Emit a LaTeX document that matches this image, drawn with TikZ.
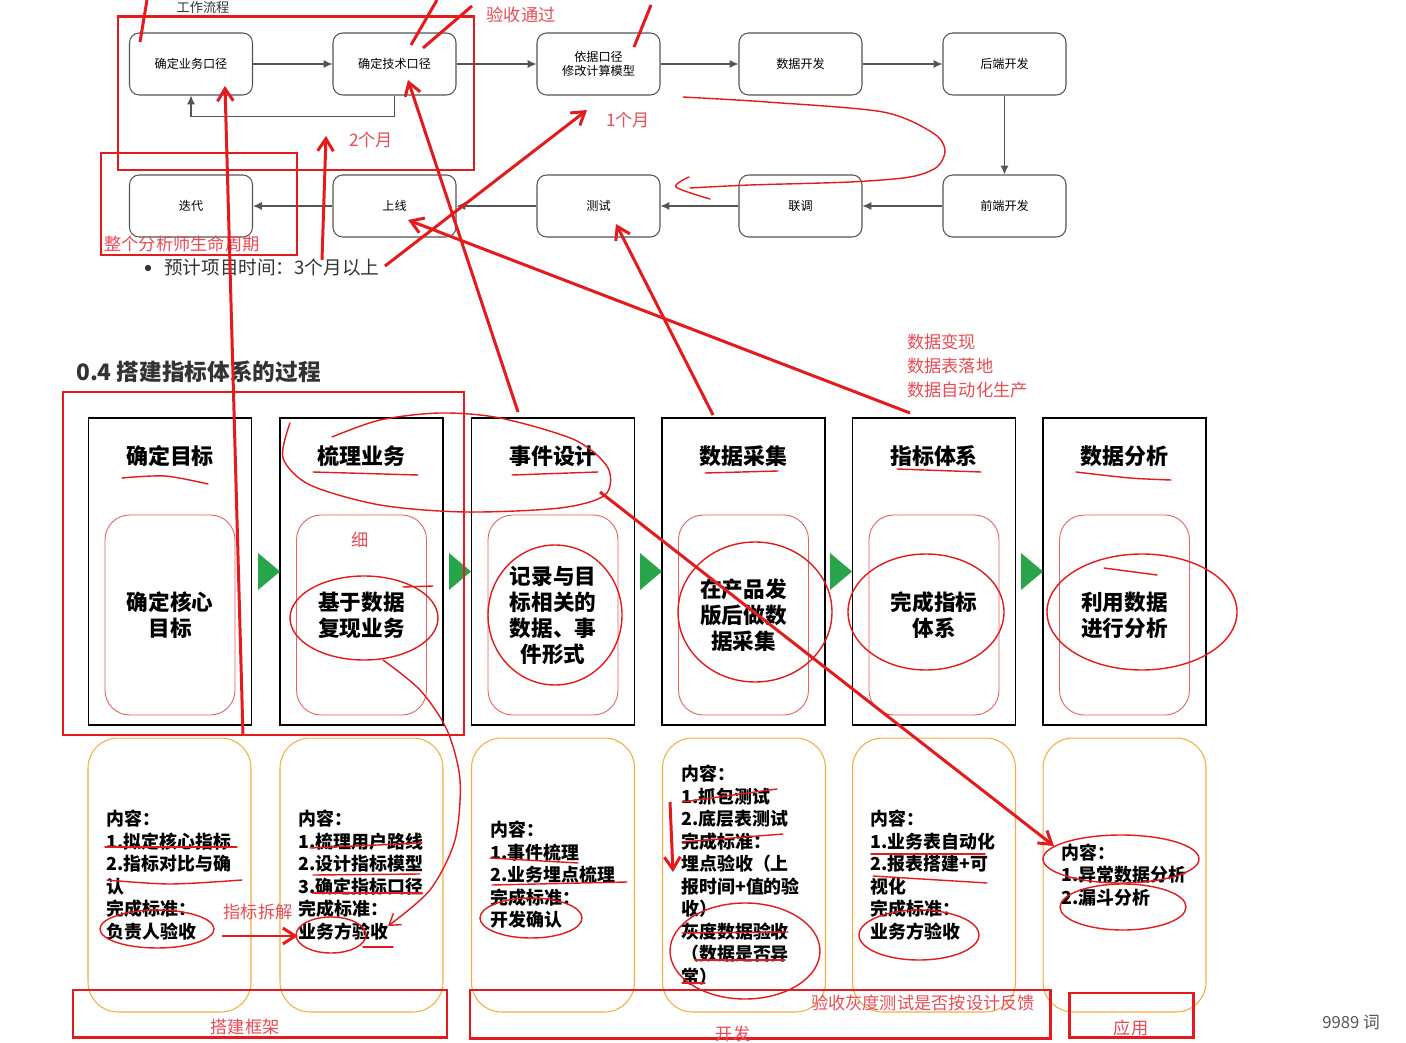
\documentclass[tikz,border=0pt]{standalone}
\usepackage{fontspec}
\setmainfont{Noto Sans CJK SC}
\usepackage{tikz}
\usetikzlibrary{arrows,arrows.meta,positioning,calc,shapes}
\usepackage{xcolor}
\definecolor{flowgray}{RGB}{85,85,85}
\definecolor{annored}{RGB}{228,26,28}
\definecolor{notered}{RGB}{232,76,86}
\definecolor{inred}{RGB}{232,95,95}
\definecolor{cardorange}{RGB}{245,175,65}
\definecolor{arrowgreen}{RGB}{40,165,75}
\definecolor{titlegray}{RGB}{51,51,51}

\begin{document}
\begin{tikzpicture}[x=0.02cm, y=-0.02cm,
    flowbox/.style={draw=flowgray, line width=0.6pt, rounded corners=5.5pt, minimum width=2.46cm, minimum height=1.24cm, align=center, font=\fontsize{6.9}{8}\selectfont},
    flowarrow/.style={-{Latex[length=5pt,width=4.5pt]}, flowgray, line width=0.6pt},
    colbox/.style={draw=black, line width=0.7pt, minimum width=3.26cm, minimum height=6.14cm},
    inbox/.style={draw=inred, line width=0.5pt, rounded corners=14pt, minimum width=2.6cm, minimum height=4cm},
    cardbox/.style={draw=cardorange, line width=0.6pt, rounded corners=17pt, minimum width=3.26cm, minimum height=5.48cm},
    head/.style={font=\bfseries\fontsize{12.5}{15}\selectfont},
    body/.style={align=center, font=\bfseries\fontsize{12.3}{14.8}\selectfont},
    card/.style={anchor=west, inner sep=0pt, align=left, font=\bfseries\fontsize{10.2}{12.8}\selectfont},
    note/.style={text=notered, font=\fontsize{9.8}{13.6}\selectfont},
    annobox/.style={draw=annored, line width=1.7pt},
    redarrow/.style={annored, line width=1.7pt, -{Straight Barb[length=7pt,width=9pt]}},
    scribble/.style={annored, line width=0.8pt, line cap=round}]

    \fill[white] (0,0) rectangle (1406,1043);
    \useasboundingbox (0,0) rectangle (1406,1043);

    % Work flow (top)
    \node[font=\fontsize{7.5}{9}\selectfont, text=titlegray, inner sep=0pt] (flowtitle) at (203,7) {工作流程};
    \node[flowbox] (bizcal) at (191,64) {确定业务口径};
    \node[flowbox] (techcal) at (394.5,64) {确定技术口径};
    \node[flowbox] (model) at (598.5,64) {依据口径\\修改计算模型};
    \node[flowbox] (datadev) at (800.5,64) {数据开发};
    \node[flowbox] (backend) at (1004.5,64) {后端开发};
    \node[flowbox] (iterate) at (191,206) {迭代};
    \node[flowbox] (online) at (394.5,206) {上线};
    \node[flowbox] (test) at (598.5,206) {测试};
    \node[flowbox] (jointdebug) at (800.5,206) {联调};
    \node[flowbox] (frontend) at (1004.5,206) {前端开发};

    \draw[flowarrow] (bizcal) -- (techcal);
    \draw[flowarrow] (techcal) -- (model);
    \draw[flowarrow] (model) -- (datadev);
    \draw[flowarrow] (datadev) -- (backend);
    \draw[flowarrow] (backend) -- (frontend);
    \draw[flowarrow] (frontend) -- (jointdebug);
    \draw[flowarrow] (jointdebug) -- (test);
    \draw[flowarrow] (test) -- (online);
    \draw[flowarrow] (online) -- (iterate);
    \draw[flowarrow] (techcal.south) -- ++(0,21) -| (bizcal.south);

    \fill[titlegray] (148,268) circle (3.2);
    \node[anchor=west, text=titlegray, font=\fontsize{10.6}{13}\selectfont] (duration) at (158,267) {预计项目时间：3个月以上};

    % Section title
    \node[anchor=west, text=titlegray, font=\bfseries\fontsize{12.9}{15}\selectfont] (sectitle) at (70,372) {0.4 搭建指标体系的过程};

    % Columns
    \node[colbox] (goal) at (170,571.5) {};
    \node[colbox] (biz) at (361.5,571.5) {};
    \node[colbox] (event) at (553,571.5) {};
    \node[colbox] (collect) at (743.5,571.5) {};
    \node[colbox] (metric) at (934,571.5) {};
    \node[colbox] (analysis) at (1124.5,571.5) {};

    \node[head] (goalhead) at (170,456) {确定目标};
    \node[head] (bizhead) at (361.5,456) {梳理业务};
    \node[head] (eventhead) at (553,456) {事件设计};
    \node[head] (collecthead) at (743.5,456) {数据采集};
    \node[head] (metrichead) at (934,456) {指标体系};
    \node[head] (analysishead) at (1124.5,456) {数据分析};

    \node[inbox] (goalin) at (170,615) {};
    \node[inbox] (bizin) at (361.5,615) {};
    \node[inbox] (eventin) at (553,615) {};
    \node[inbox] (collectin) at (743.5,615) {};
    \node[inbox] (metricin) at (934,615) {};
    \node[inbox] (analysisin) at (1124.5,615) {};

    \node[body] (goaltext) at (170,615) {确定核心\\目标};
    \node[body] (biztext) at (361.5,615) {基于数据\\复现业务};
    \node[body] (eventtext) at (553,615) {记录与目\\标相关的\\数据、事\\件形式};
    \node[body] (collecttext) at (743.5,615) {在产品发\\版后做数\\据采集};
    \node[body] (metrictext) at (934,615) {完成指标\\体系};
    \node[body] (analysistext) at (1124.5,615) {利用数据\\进行分析};

    % green steps
    \fill[arrowgreen] (258,553) -- (280,571.5) -- (258,590) -- cycle;
    \fill[arrowgreen] (449,553) -- (471,571.5) -- (449,590) -- cycle;
    \fill[arrowgreen] (640,553) -- (662,571.5) -- (640,590) -- cycle;
    \fill[arrowgreen] (830,553) -- (852,571.5) -- (830,590) -- cycle;
    \fill[arrowgreen] (1021,553) -- (1043,571.5) -- (1021,590) -- cycle;

    % Cards
    \node[cardbox] (goalcard) at (169.5,875) {};
    \node[cardbox] (bizcard) at (361.5,875) {};
    \node[cardbox] (eventcard) at (553,875) {};
    \node[cardbox] (collectcard) at (744,875) {};
    \node[cardbox] (metriccard) at (934,875) {};
    \node[cardbox] (analysiscard) at (1124.5,875) {};

    \node[card] (goalnote) at (106,875) {内容：\\1.拟定核心指标\\2.指标对比与确\\认\\完成标准：\\负责人验收};
    \node[card] (biznote) at (298,875) {内容：\\1.梳理用户路线\\2.设计指标模型\\3.确定指标口径\\完成标准：\\业务方验收};
    \node[card] (eventnote) at (490,875) {内容：\\1.事件梳理\\2.业务埋点梳理\\完成标准：\\开发确认};
    \node[card] (collectnote) at (681,875) {内容：\\1.抓包测试\\2.底层表测试\\完成标准：\\埋点验收（上\\报时间+值的验\\收）\\灰度数据验收\\（数据是否异\\常）};
    \node[card] (metricnote) at (870,875) {内容：\\1.业务表自动化\\2.报表搭建+可\\视化\\完成标准：\\业务方验收};
    \node[card] (analysisnote) at (1061,875) {内容：\\1.异常数据分析\\2.漏斗分析};

    % Red boxes
    \draw[annobox] (118,17) rectangle (474,170);
    \draw[annobox] (101,153) rectangle (297,255);
    \draw[annobox] (63,392) rectangle (464,735);
    \draw[annobox] (73,990) rectangle (447,1037);
    \draw[annobox] (470,990) rectangle (1050,1038);
    \draw[annobox] (1069,993) rectangle (1193,1037);

    % Red notes
    \node[note] (passed) at (521,15) {验收通过};
    \node[note] (twomonth) at (371,140) {2个月};
    \node[note] (onemonth) at (628,120) {1个月};
    \node[note] (lifecycle) at (182,244) {整个分析师生命周期};
    \node[note, anchor=west, align=left] (realize) at (901,366) {数据变现\\数据表落地\\数据自动化生产};
    \node[note] (fine) at (360,540) {细};
    \node[note] (split) at (258,912) {指标拆解};
    \node[note] (frame) at (245,1027) {搭建框架};
    \node[note] (dev) at (733,1034) {开发};
    \node[note] (graycheck) at (923,1003) {验收灰度测试是否按设计反馈};
    \node[note] (apply) at (1131,1028) {应用};
    \node[text=flowgray, font=\fontsize{9.5}{11}\selectfont] (wordcount) at (1351,1022) {9989 词};

    % Red arrows
    \coordinate (goalfoot) at (243,736);
    \coordinate (bizcalpt) at (225,86);
    \coordinate (eventtop) at (518,412);
    \coordinate (techcalpt) at (408,80);
    \coordinate (collecttop) at (713,415);
    \coordinate (testpt) at (616,224);
    \coordinate (metrictop) at (910,413);
    \coordinate (onlinept) at (408,220);
    \coordinate (twomonthtail) at (322,260);
    \coordinate (twomonthpt) at (326,136);
    \coordinate (durationtail) at (385,266);
    \coordinate (onemonthpt) at (587,110);
    \coordinate (eventloop) at (600,492);
    \coordinate (analysispt) at (1054,846);
    \coordinate (splittail) at (222,936);
    \coordinate (splitpt) at (298,936);
    \coordinate (collecttail) at (670,802);
    \coordinate (collectpt) at (673,872);

    \draw[redarrow] (goalfoot) -- (bizcalpt);
    \draw[redarrow] (eventtop) -- (techcalpt);
    \draw[redarrow] (collecttop) -- (testpt);
    \draw[redarrow] (metrictop) -- (onlinept);
    \draw[redarrow] (twomonthtail) -- (twomonthpt);
    \draw[redarrow] (durationtail) -- (onemonthpt);
    \draw[redarrow] (eventloop) -- (analysispt);
    \draw[redarrow] (splittail) -- (splitpt);
    \draw[redarrow] (collecttail) -- (collectpt);

    % strokes coming from above
    \draw[annored, line width=1.7pt] (140,42) -- (147,0);
    \draw[annored, line width=1.7pt] (411,45) -- (437,0);
    \draw[annored, line width=1.7pt] (423,48) -- (472,6);
    \draw[annored, line width=1.7pt] (634,47) -- (651,5);

    % scribbles
    \draw[scribble] plot[smooth] coordinates {(683,97) (767,102) (883,112) (933,133) (945,150) (937,167) (910,177) (850,182) (750,185) (690,188)};
    \draw[scribble] plot[smooth] coordinates {(689,177) (676,187) (710,199)};
    \draw[scribble] plot[smooth] coordinates {(290,423) (283,458) (310,485) (380,505) (465,512) (560,508) (605,495) (608,468) (575,440) (500,418) (440,413) (380,420) (332,437)};
    \draw[scribble] plot[smooth] coordinates {(122,478) (165,476) (208,484)};
    \draw[scribble] (313,472) -- (418,475);
    \draw[scribble] (512,475) -- (598,472);
    \draw[scribble] (705,473) -- (778,471);
    \draw[scribble] (897,469) -- (981,472);
    \draw[scribble] plot[smooth] coordinates {(1076,472) (1130,478) (1171,480)};

    \draw[scribble] (364,618) ellipse [x radius=74, y radius=42];
    \draw[scribble] (403,587) -- (433,586);
    \draw[scribble, -{Straight Barb[length=6pt,width=8pt]}] plot[smooth] coordinates {(383,660) (420,690) (447,730) (460,780) (455,840) (430,890) (388,926)};
    \draw[scribble] (555,615) ellipse [x radius=67, y radius=70];
    \draw[scribble] (755,612) ellipse [x radius=77, y radius=70];
    \draw[scribble] (926,612) ellipse [x radius=78, y radius=58];
    \draw[scribble] (1142,612) ellipse [x radius=95, y radius=58];
    \draw[scribble] (1104,568) -- (1157,575);

    \draw[scribble] (105,847) -- (237,847);
    \draw[scribble] plot[smooth] coordinates {(107,880) (170,884) (242,880)};
    \draw[scribble] (157,929) ellipse [x radius=57, y radius=19];
    \draw[scribble] (310,848) -- (422,843);
    \draw[scribble] (313,875) -- (420,874);
    \draw[scribble] (313,893) -- (422,893);
    \draw[scribble] (331,935) ellipse [x radius=35, y radius=18];
    \draw[scribble] (363,947) -- (393,947);
    \draw[scribble] (490,858) -- (578,863);
    \draw[scribble] (492,885) -- (627,882);
    \draw[scribble] (531,918) ellipse [x radius=51, y radius=20];
    \draw[scribble] (682,802) -- (777,789);
    \draw[scribble] (682,842) -- (783,834);
    \draw[scribble] (745,951) ellipse [x radius=75, y radius=48];
    \draw[scribble] (682,933) -- (788,932);
    \draw[scribble] (695,960) -- (785,960);
    \draw[scribble] (682,983) -- (705,983);
    \draw[scribble] (871,854) -- (985,854);
    \draw[scribble] (873,876) -- (987,883);
    \draw[scribble] (919,935) ellipse [x radius=60, y radius=25];
    \draw[scribble] (1121,859) ellipse [x radius=78, y radius=24];
    \draw[scribble] (1123,907) ellipse [x radius=63, y radius=23];
\end{tikzpicture}
\end{document}
